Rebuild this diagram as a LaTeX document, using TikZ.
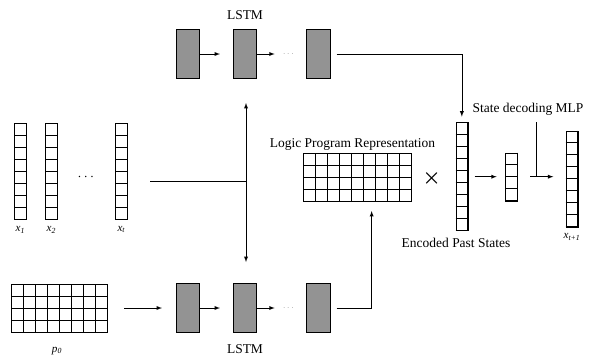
\documentclass[tikz,border=0pt]{standalone}
\usepackage{amsmath}
\usepackage{fontspec}
\setmainfont{Liberation Serif}
\usetikzlibrary{calc}

\tikzset{
    cellbox/.style={draw, line width=0.6pt, inner sep=0pt, minimum width=#1},
    lstmbox/.style={draw, fill=gray!85, line width=0.6pt, inner sep=0pt, minimum width=0.7cm, minimum height=1.47cm},
    conn/.style={line width=0.6pt},
    arr/.style={conn, -latex},
    lbl/.style={font=\fontsize{11.5}{13}\selectfont, inner sep=0pt},
    sublbl/.style={font=\fontsize{9.5}{10}\selectfont\itshape, inner sep=0pt},
}

% grid block: name, left x, top y, columns, rows (1 unit = 1 px)
\newcommand{\cellgrid}[5]{%
    \node[cellbox=#4*0.36cm, minimum height=#5*0.36cm, anchor=north west] (#1) at (#2,#3) {};
    \foreach \c in {1,...,#4} \draw[line width=0.6pt] ($(#1.north west)+(\c*12,0)$) -- ($(#1.south west)+(\c*12,0)$);
    \foreach \r in {1,...,#5} \draw[line width=0.6pt] ($(#1.north west)+(0,\r*12)$) -- ($(#1.north east)+(0,\r*12)$);
}

\begin{document}
\begin{tikzpicture}[x=0.03cm, y=-0.03cm]
    \useasboundingbox (0,0) rectangle (589,358);

    % input states
    \cellgrid{x1}{14}{123}{1}{8}
    \cellgrid{x2}{45}{123}{1}{8}
    \cellgrid{xt}{115}{123}{1}{8}
    \node[lbl] (xdots) at (87,177) {$\cdots$};
    \node[sublbl, below=0.2cm] (lx1) at (x1.south) {x\textsubscript{1}};
    \node[sublbl, below=0.2cm] (lx2) at (x2.south) {x\textsubscript{2}};
    \node[sublbl, below=0.2cm] (lxt) at (xt.south) {x\textsubscript{t}};

    \coordinate (in) at (150,181);
    \coordinate (j) at (246,181);

    % top LSTM
    \node[lstmbox] (t1) at (188,54) {};
    \node[lstmbox] (t2) at (245,54) {};
    \node[lstmbox] (t3) at (318.5,54) {};
    \node[font=\tiny] (tdots) at (289,54) {$\cdots$};
    \node[lbl] (tl) at (245,15) {LSTM};

    % bottom LSTM
    \node[lstmbox] (b1) at (188,308) {};
    \node[lstmbox] (b2) at (245,308) {};
    \node[lstmbox] (b3) at (318.5,308) {};
    \node[font=\tiny] (bdots) at (289,308) {$\cdots$};
    \node[lbl] (bl) at (245,349) {LSTM};

    % program
    \cellgrid{p0}{11}{284}{8}{4}
    \node[sublbl] (lp0) at (57,351) {p\textsubscript{0}};

    % logic program
    \cellgrid{logic}{303.3}{153.3}{9}{4}
    \node[lbl] (ll) at (352.5,144) {Logic Program Representation};
    \node[font=\LARGE] (times) at (431.7,178.3) {$\boldsymbol{\times}$};

    % encoded past states and output
    \cellgrid{enc}{455.5}{122.3}{1}{9}
    \node[lbl] (le) at (456,243) {Encoded Past States};
    \cellgrid{small}{505}{152.7}{1}{4}
    \cellgrid{out}{565.7}{130.7}{1}{8}
    \node[sublbl] (lout) at (572,237) {x\textsubscript{t+1}};
    \node[lbl] (mlp) at (528,109) {State decoding MLP};
    \coordinate (m) at (536.7,176.7);

    \draw[conn] (in) -- (j);
    \draw[arr] (j) -- ++(0,-78);
    \draw[arr] (j) -- ++(0,81);

    \draw[arr, shorten >=0.39cm] (t1) -- (t2);
    \draw[arr, shorten >=0.12cm] (t2) -- (tdots);
    \draw[arr, shorten >=0.39cm] (b1) -- (b2);
    \draw[arr, shorten >=0.12cm] (b2) -- (bdots);
    \draw[arr, shorten <=0.5cm, shorten >=0.42cm] (p0.east |- b1) -- (b1);

    \draw[arr, shorten <=0.18cm, shorten >=0.17cm] (t3.east) -| (enc.north);
    \draw[arr, shorten <=0.18cm, shorten >=0.27cm] (b3.east) -| ([xshift=0.42cm]logic.south);

    \draw[arr, shorten <=0.19cm, shorten >=0.25cm] (enc.east |- m) -- (small.west |- m);
    \draw[arr, shorten <=0.38cm, shorten >=0.37cm] (small.east |- m) -- (out.west |- m);
    \draw[conn, shorten <=0.2cm] (mlp.south -| m) -- (m);
\end{tikzpicture}
\end{document}
